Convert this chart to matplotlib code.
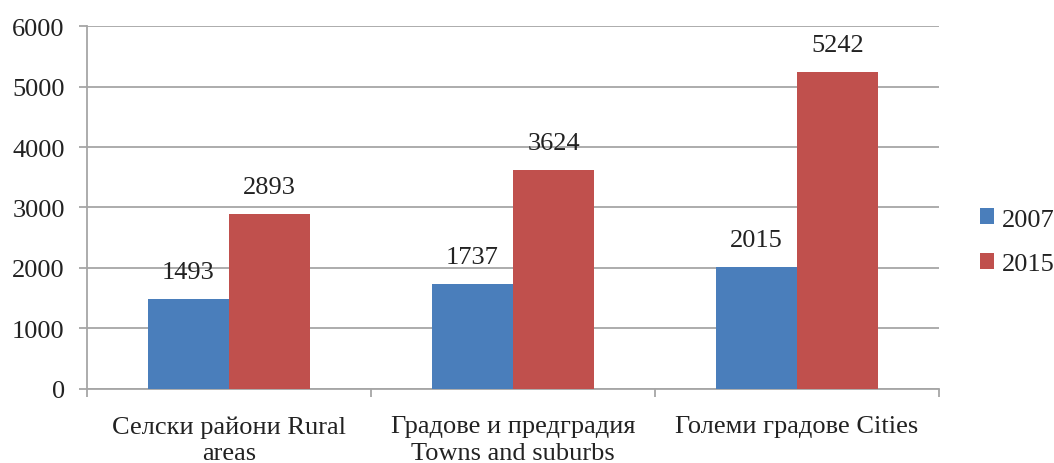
import numpy as np
import matplotlib.pyplot as plt

plt.rcParams['font.family'] = ['Liberation Serif', 'DejaVu Serif']

categories = ['Селски райони Rural\nareas', 'Градове и предградия\nTowns and suburbs', 'Големи градове Cities']
years = ['2007', '2015']
values_2007 = [1493, 1737, 2015]
values_2015 = [2893, 3624, 5242]
colors = ['#4a7ebb', '#c0504d']

fig = plt.figure(figsize=(10.54, 4.64), dpi=100)
ax = fig.add_axes([0.0825, 0.1595, 0.8085, 0.7823])

x = np.arange(len(categories))
w = 0.285
bars1 = ax.bar(x - w / 2, values_2007, w, color=colors[0], label=years[0], zorder=3)
bars2 = ax.bar(x + w / 2, values_2015, w, color=colors[1], label=years[1], zorder=3)

for bars in (bars1, bars2):
    for b in bars:
        ax.annotate(str(int(b.get_height())), (b.get_x() + b.get_width() / 2, b.get_height()),
                    xytext=(0, 15), textcoords='offset points', ha='center', va='baseline',
                    fontsize=19, color='#222222')

ax.set_xlim(-0.5, len(categories) - 0.5)
ax.set_ylim(0, 6000)
ax.set_yticks(np.arange(0, 6001, 1000))
ax.yaxis.grid(True, color='#a6a6a6', linewidth=1.3, zorder=0)
ax.tick_params(axis='y', length=6, width=1.3, color='#a6a6a6', pad=10, labelsize=19, labelcolor='#222222')

# category boundaries as major ticks, labels on minor ticks at centers
ax.set_xticks(np.arange(-0.5, len(categories), 1.0))
ax.set_xticklabels([])
ax.set_xticks(x, minor=True)
ax.set_xticklabels(categories, minor=True, fontsize=19, color='#222222', linespacing=1.27)
ax.tick_params(axis='x', which='major', length=6, width=1.3, color='#a6a6a6')
ax.tick_params(axis='x', which='minor', length=0, pad=19)

for s in ['top', 'right']:
    ax.spines[s].set_visible(False)
for s in ['left', 'bottom']:
    ax.spines[s].set_color('#a6a6a6')
    ax.spines[s].set_linewidth(1.3)

ax.legend(loc='center left', bbox_to_anchor=(1.02, 0.405), frameon=False, fontsize=19,
          handlelength=0.55, handleheight=0.55, handletextpad=0.3, labelspacing=0.85,
          labelcolor='#222222')

fig.savefig('out.png', dpi=100)
